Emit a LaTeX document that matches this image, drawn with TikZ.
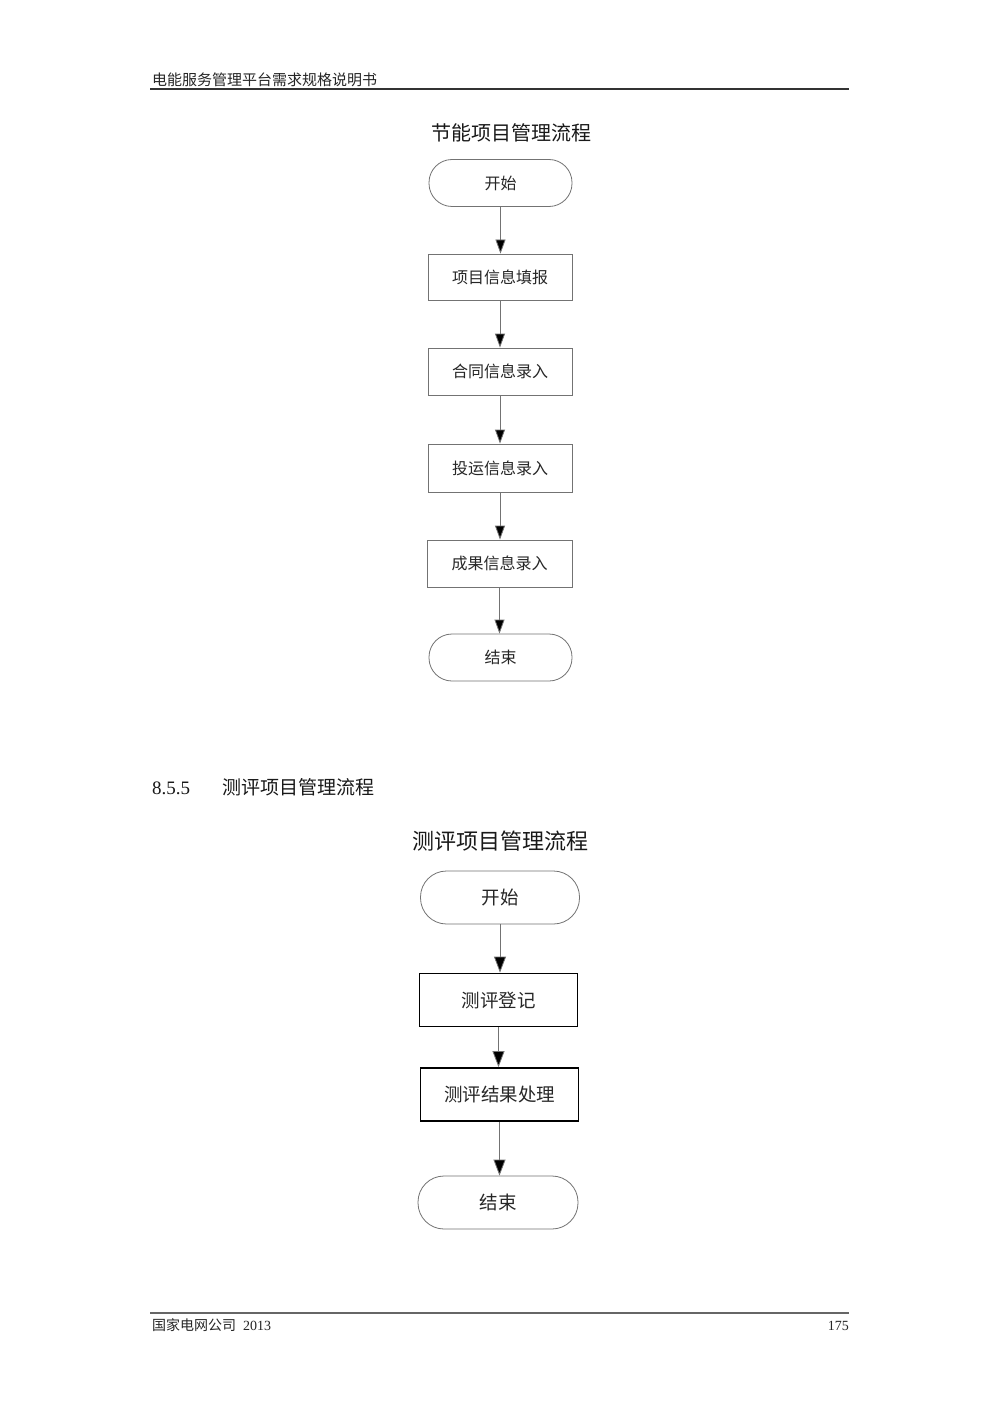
\documentclass[tikz,border=0pt]{standalone}
\usepackage{fontspec}
\setmainfont{Liberation Serif}
\newfontfamily\cjk{Noto Sans CJK SC}
\usetikzlibrary{arrows.meta}
\begin{document}
\begin{tikzpicture}[x=1pt,y=-1pt,
  grayline/.style={draw=black!55,line width=0.8pt},
  term/.style={grayline,rounded corners=23pt,inner sep=0pt,font=\cjk\fontsize{16}{18}\selectfont,text=black!85},
  pbox/.style={grayline,inner sep=0pt,font=\cjk\fontsize{16}{18}\selectfont,text=black!85},
  termB/.style={draw=black!55,line width=0.8pt,rounded corners=26pt,inner sep=0pt,font=\cjk\fontsize{18.5}{20}\selectfont,text=black!85},
  pboxB/.style={draw=black,line width=1.8pt,inner sep=0pt,font=\cjk\fontsize{18.5}{20}\selectfont,text=black!85},
  flow/.style={draw=black!55,line width=0.8pt,-{Triangle[width=10pt,length=14pt,fill=black]}},
  flowB/.style={draw=black!55,line width=0.8pt,-{Triangle[width=12pt,length=16pt,fill=black]}},
  ttl/.style={text=black!90},
]
\useasboundingbox (0,0) rectangle (1000,1415);
\fill[white] (0,0) rectangle (1000,1415);
% header
\node[anchor=base west,inner sep=0pt,font=\cjk\fontsize{15}{17}\selectfont,text=black!85] (hdr) at (152,86) {电能服务管理平台需求规格说明书};
\coordinate (hl) at (150,89);
\coordinate (hr) at (849,89);
\draw[line width=1.6pt,black!80] (hl) -- (hr);
% title 1
\node[ttl,font=\cjk\fontsize{20}{22}\selectfont] (t1) at (511,133) {节能项目管理流程};
% chart 1
\node[term,minimum width=143pt,minimum height=47pt] (s1) at (500.5,183) {开始};
\node[pbox,minimum width=144pt,minimum height=46pt] (a1) at (500,277) {项目信息填报};
\node[pbox,minimum width=144pt,minimum height=47pt] (a2) at (500,371.5) {合同信息录入};
\node[pbox,minimum width=144pt,minimum height=48pt] (a3) at (500,468) {投运信息录入};
\node[pbox,minimum width=145pt,minimum height=47pt] (a4) at (499.5,563.5) {成果信息录入};
\node[term,minimum width=143pt,minimum height=47pt] (e1) at (500.5,657.5) {结束};
\draw[flow] (s1.south) -- (s1.south |- a1.north);
\draw[flow] (a1.south) -- (a1.south |- a2.north);
\draw[flow] (a2.south) -- (a2.south |- a3.north);
\draw[flow] (a3.south) -- (a3.south |- a4.north);
\draw[flow] (a4.south) -- (a4.south |- e1.north);
% section heading
\node[anchor=base west,inner sep=0pt,font=\fontsize{19}{21}\selectfont,text=black!90] (secnum) at (152,794) {8.5.5};
\node[anchor=base west,inner sep=0pt,font=\cjk\fontsize{19}{21}\selectfont,text=black!90] (sectxt) at (222,794) {测评项目管理流程};
% title 2
\node[ttl,font=\cjk\fontsize{22}{24}\selectfont] (t2) at (500,841) {测评项目管理流程};
% chart 2
\node[termB,minimum width=159pt,minimum height=53pt] (s2) at (500,897.5) {开始};
\node[pboxB,minimum width=158pt,minimum height=53pt] (b1) at (498.5,1000) {测评登记};
\node[pboxB,minimum width=158pt,minimum height=53pt] (b2) at (499.5,1094.5) {测评结果处理};
\node[termB,minimum width=160pt,minimum height=53pt] (e2) at (498,1202.5) {结束};
\draw[flowB] (s2.south) -- (s2.south |- b1.north);
\draw[flowB] (b1.south) -- (b1.south |- b2.north);
\draw[flowB] (b2.south) -- (b2.south |- e2.north);
% footer
\coordinate (fl) at (150,1313);
\coordinate (fr) at (849,1313);
\draw[line width=1.6pt,black!60] (fl) -- (fr);
\node[anchor=base west,inner sep=0pt,font=\fontsize{14}{16}\selectfont,text=black!85] (ftr) at (152,1330) {{\cjk 国家电网公司}\hspace{7pt}2013};
\node[anchor=base east,inner sep=0pt,font=\fontsize{14}{16}\selectfont,text=black!85] (pg) at (849,1330) {175};
\end{tikzpicture}
\end{document}
